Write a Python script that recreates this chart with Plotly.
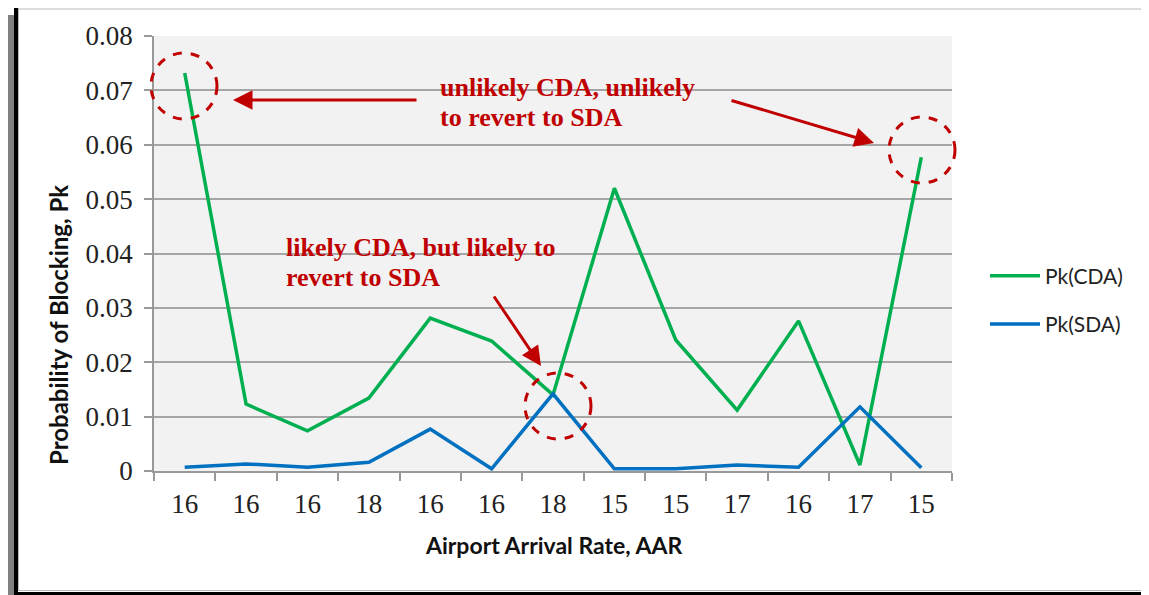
import plotly.graph_objects as go

# ---- data ----
aar_labels = ["16", "16", "16", "18", "16", "16", "18", "15", "15", "17", "16", "17", "15"]
pk_cda = [0.0732, 0.0123, 0.0074, 0.0134, 0.0281, 0.0239, 0.0140, 0.0520, 0.0241, 0.0112, 0.0276, 0.0011, 0.0577]
pk_sda = [0.0007, 0.0013, 0.0007, 0.0016, 0.0077, 0.0004, 0.0142, 0.0004, 0.0004, 0.0011, 0.0007, 0.0118, 0.0006]
cats = [f"c{i}" for i in range(len(aar_labels))]
x_title = "Airport Arrival Rate, AAR"
y_title = "Probability of Blocking, Pk"

OFF = 8  # browser body margin
W, H = 1149 - OFF, 595 - OFF
L, R, T, B = 154 - OFF, 952 - OFF, 36 - OFF, 471 - OFF  # plot area in figure pixels


def px(x):  # reference-screen x -> paper
    return (x - OFF - L) / (R - L)


def py(y):  # reference-screen y -> paper
    return (B - (y - OFF)) / (B - T)


RED = "#C00000"

fig = go.Figure()
fig.add_trace(go.Scatter(x=cats, y=pk_cda, mode="lines", name="Pk(CDA)", legendgroup="a",
                         line=dict(color="#00B050", width=3.5)))
fig.add_trace(go.Scatter(x=cats, y=pk_sda, mode="lines", name="Pk(SDA)", legendgroup="b",
                         line=dict(color="#0070C0", width=3.5)))

shapes = []
# frame
shapes.append(dict(type="rect", xref="paper", yref="paper", x0=px(4), x1=px(14), y0=py(595), y1=py(15),
                   fillcolor="#808080", line=dict(width=0), layer="above"))
shapes.append(dict(type="line", xref="paper", yref="paper", x0=px(14), x1=px(1149), y0=py(6.5), y1=py(6.5),
                   line=dict(color="black", width=3)))
shapes.append(dict(type="line", xref="paper", yref="paper", x0=px(16), x1=px(16), y0=py(5), y1=py(595),
                   line=dict(color="black", width=4)))
shapes.append(dict(type="line", xref="paper", yref="paper", x0=px(14), x1=px(1149), y0=py(593.5), y1=py(593.5),
                   line=dict(color="black", width=3)))
shapes.append(dict(type="line", xref="paper", yref="paper", x0=px(1148), x1=px(1148), y0=py(8), y1=py(591),
                   line=dict(color="#C8C8C8", width=1.5)))
shapes.append(dict(type="line", xref="paper", yref="paper", x0=px(18.5), x1=px(18.5), y0=py(8), y1=py(591),
                   line=dict(color="#BBBBBB", width=1)))
shapes.append(dict(type="line", xref="paper", yref="paper", x0=px(18), x1=px(1148), y0=py(9), y1=py(9),
                   line=dict(color="#BBBBBB", width=1)))
shapes.append(dict(type="line", xref="paper", yref="paper", x0=px(18), x1=px(1148), y0=py(590.5), y1=py(590.5),
                   line=dict(color="#BBBBBB", width=1)))

# dashed circles
for cx, cy, r in [(184, 86, 33), (922, 150, 33), (558, 406, 33)]:
    shapes.append(dict(type="circle", xref="paper", yref="paper",
                       x0=px(cx - r), x1=px(cx + r), y0=py(cy + r), y1=py(cy - r),
                       line=dict(color=RED, width=3, dash="dash")))

annotations = []
tfont = dict(family="Liberation Serif", size=26, color=RED)
for text, x, y in [("<b>unlikely CDA, unlikely</b>", 438, 87),
                   ("<b>to revert to SDA</b>", 438, 118),
                   ("<b>likely CDA, but likely to</b>", 284, 247),
                   ("<b>revert to SDA</b>", 284, 277)]:
    annotations.append(dict(xref="paper", yref="paper", x=px(x), y=py(y), text=text,
                            showarrow=False, xanchor="left", yanchor="middle", font=tfont))

for (tx, ty), (sx, sy) in [((233, 100), (418, 100)), ((874, 143), (730, 100)), ((541, 366), (493, 295))]:
    annotations.append(dict(xref="paper", yref="paper", x=px(tx), y=py(ty), text="",
                            showarrow=True, ax=sx - tx, ay=sy - ty, arrowhead=2, arrowsize=1.3,
                            arrowwidth=3, arrowcolor=RED))

# axis titles
annotations.append(dict(xref="paper", yref="paper", x=px(553), y=py(545), text=f"<b>{x_title}</b>",
                        showarrow=False, xanchor="center", yanchor="middle",
                        font=dict(family="Lato", size=23, color="#111111")))
annotations.append(dict(xref="paper", yref="paper", x=px(59), y=py(325), text=f"<b>{y_title}</b>",
                        showarrow=False, xanchor="center", yanchor="middle", textangle=-90,
                        font=dict(family="Lato", size=24, color="#111111")))

fig.update_layout(
    width=W, height=H,
    margin=dict(l=L, r=W - R, t=T, b=H - B, autoexpand=False),
    paper_bgcolor="white",
    plot_bgcolor="#F2F2F2",
    shapes=shapes,
    annotations=annotations,
    showlegend=True,
    legend=dict(x=px(985), y=py(300), xanchor="left", yanchor="middle",
                font=dict(family="Lato", size=21, color="#222222"),
                bgcolor="rgba(0,0,0,0)", tracegroupgap=18, itemwidth=50),
    xaxis=dict(type="category", tickvals=cats, ticktext=aar_labels, tickson="boundaries",
               ticks="outside", ticklen=8, tickcolor="#999999", tickwidth=1.5,
               showline=True, linecolor="#999999", linewidth=1.5, showgrid=False,
               tickfont=dict(family="Liberation Serif", size=27, color="#222222"),
               ticklabelstandoff=8,
               range=[-0.5, 12.5]),
    yaxis=dict(range=[0, 0.08], tickvals=[0, 0.01, 0.02, 0.03, 0.04, 0.05, 0.06, 0.07, 0.08],
               ticktext=["0", "0.01", "0.02", "0.03", "0.04", "0.05", "0.06", "0.07", "0.08"],
               ticks="outside", ticklen=8, tickcolor="#999999", tickwidth=1.5,
               showgrid=True, gridcolor="#A6A6A6", gridwidth=1.5,
               showline=True, linecolor="#999999", linewidth=1.5, zeroline=False,
               tickfont=dict(family="Liberation Serif", size=27, color="#222222"),
               ticklabelstandoff=6),
)

fig.write_html("out.html")
